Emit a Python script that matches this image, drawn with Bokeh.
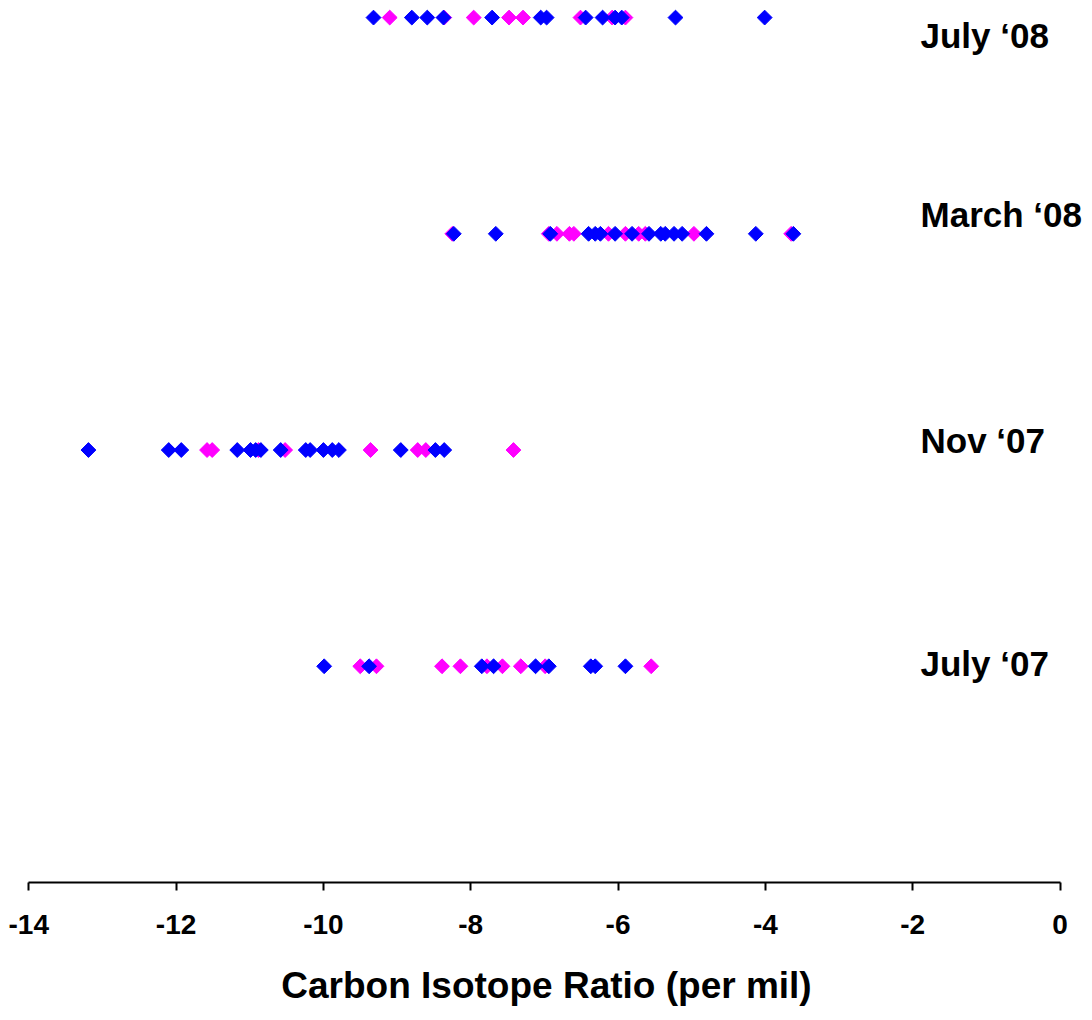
from math import pi
from bokeh.plotting import figure
from bokeh.models import Range1d, FixedTicker, ColumnDataSource
from bokeh.core.properties import value
from bokeh.embed import file_html
from bokeh.resources import INLINE

# ---- data ----
seasons = ["July \u201807", "Nov \u201807", "March \u201808", "July \u201808"]
tick_values = [-14, -12, -10, -8, -6, -4, -2, 0]

july07_blue = [-9.99, -9.38, -7.85, -7.69, -7.12, -6.94, -6.37, -6.31, -5.90]
july07_magenta = [-9.50, -9.28, -8.39, -8.14, -7.78, -7.57, -7.32, -6.99, -5.55]

nov07_blue = [-13.19, -12.10, -11.93, -11.17, -10.99, -10.92, -10.85, -10.58,
              -10.24, -10.18, -10.00, -9.88, -9.79, -8.95, -8.48, -8.36]
nov07_magenta = [-11.58, -11.51, -10.88, -10.52, -9.36, -8.72, -8.61, -7.42]

mar08_blue = [-8.23, -7.66, -6.92, -6.40, -6.31, -6.24, -6.04, -5.81, -5.58,
              -5.42, -5.36, -5.24, -5.13, -4.80, -4.13, -3.62]
mar08_magenta = [-8.25, -6.94, -6.83, -6.66, -6.60, -6.13, -5.90, -5.72, -5.63,
                 -4.97, -3.65]

jul08_blue = [-9.32, -8.80, -8.59, -8.37, -7.71, -7.05, -6.97, -6.44, -6.21,
              -6.04, -5.95, -5.22, -4.01]
jul08_magenta = [-9.10, -8.36, -7.96, -7.48, -7.29, -6.51, -6.08, -5.90]

blue_series = [july07_blue, nov07_blue, mar08_blue, jul08_blue]
magenta_series = [july07_magenta, nov07_magenta, mar08_magenta, jul08_magenta]

# ---- build sources ----
def to_source(series_list):
    xs, ys = [], []
    for level, vals in enumerate(series_list, start=1):
        xs.extend(vals)
        ys.extend([level] * len(vals))
    return ColumnDataSource(dict(x=xs, y=ys))

src_blue = to_source(blue_series)
src_magenta = to_source(magenta_series)

FONT = "Liberation Sans"

p = figure(width=1092, height=1020, output_backend="svg", toolbar_location=None,
           x_range=Range1d(-14.384, 0.441), y_range=Range1d(0, 4.079),
           min_border_left=0, min_border_right=0, min_border_top=0,
           min_border_bottom=138)
p.outline_line_color = None
p.background_fill_color = "white"
p.border_fill_color = "white"
p.grid.visible = False
p.yaxis.visible = False

marker_kw = dict(marker="square", angle=pi / 4, size=10.5, line_width=1)
p.scatter("x", "y", source=src_magenta, fill_color="#FF00FF",
          line_color="#FF00FF", **marker_kw)
p.scatter("x", "y", source=src_blue, fill_color="#0000FF",
          line_color="#0000FF", **marker_kw)

# season labels on the right
levels = list(range(1, len(seasons) + 1))
LABEL_X = -1.894
p.text(x=[LABEL_X] * len(seasons), y=levels, text=seasons,
       y_offset=[-3, -10, -19, 18],
       text_font=value(FONT), text_font_style="bold", text_font_size="35px",
       text_color="black", text_align="left", text_baseline="middle")

ax = p.xaxis[0]
ax.bounds = (-14, 0)
ax.ticker = FixedTicker(ticks=tick_values)
ax.major_label_overrides = {v: str(v) for v in tick_values}
ax.axis_line_color = "black"
ax.axis_line_width = 2
ax.major_tick_line_color = "black"
ax.major_tick_line_width = 2
ax.major_tick_out = 8
ax.major_tick_in = 0
ax.minor_tick_line_color = None
ax.major_label_text_font = FONT
ax.major_label_text_font_style = "bold"
ax.major_label_text_font_size = "28px"
ax.major_label_text_color = "black"
ax.major_label_standoff = 24
ax.axis_label = "Carbon Isotope Ratio (per mil)"
ax.axis_label_text_font = FONT
ax.axis_label_text_font_style = "bold"
ax.axis_label_text_font_size = "37px"
ax.axis_label_text_color = "black"
ax.axis_label_standoff = 28

open("out.html", "w").write(file_html(p, INLINE))
